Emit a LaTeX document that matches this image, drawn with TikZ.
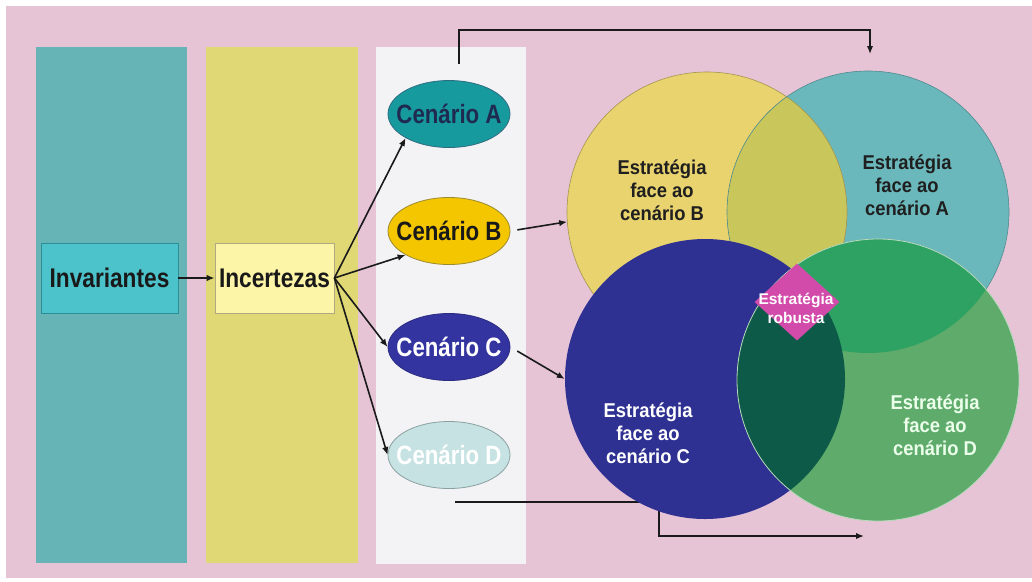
\documentclass[tikz,border=0pt]{standalone}
\usepackage{fontspec}
\setmainfont{Liberation Sans}
\newfontfamily\narrowsans[FakeStretch=0.84]{Liberation Sans}
\newfontfamily\circsans[FakeStretch=0.92]{Liberation Sans}
\usepackage{tikz}
\usetikzlibrary{%
  shapes.geometric,%
  arrows.meta,%
  calc%
}
\definecolor{bgpink}{HTML}{E6C4D6}
\definecolor{colteal}{HTML}{67B4B6}
\definecolor{colyellow}{HTML}{DFD874}
\definecolor{colwhite}{HTML}{F3F2F5}
\definecolor{invfill}{HTML}{4CC3CB}
\definecolor{invline}{HTML}{2E8E98}
\definecolor{incfill}{HTML}{FCF4A6}
\definecolor{incline}{HTML}{B0A880}
\definecolor{scAfill}{HTML}{179A9E}
\definecolor{scAline}{HTML}{2D6D80}
\definecolor{scAtext}{HTML}{1F2A50}
\definecolor{scBfill}{HTML}{F4C600}
\definecolor{scBline}{HTML}{9A8A30}
\definecolor{scCfill}{HTML}{3434A0}
\definecolor{scCline}{HTML}{2A2A80}
\definecolor{scDfill}{HTML}{C7E2E2}
\definecolor{scDline}{HTML}{8AA0A0}
\definecolor{cirBfill}{HTML}{E9D36F}
\definecolor{cirAfill}{HTML}{6BB8BC}
\definecolor{cirABfill}{HTML}{C9C75C}
\definecolor{cirCfill}{HTML}{2E3092}
\definecolor{cirDfill}{HTML}{5EAB6B}
\definecolor{cirADfill}{HTML}{2EA262}
\definecolor{cirCDfill}{HTML}{0E5A48}
\definecolor{robfill}{HTML}{D24BAA}
\definecolor{linkcol}{HTML}{1A1A1A}

\begin{document}
\begin{tikzpicture}[x=1pt,y=-1pt,
  keybox/.style={draw,line width=0.8pt,inner sep=0pt,minimum height=70pt,
    font=\narrowsans\bfseries\fontsize{27}{27}\selectfont,text=black!90},
  scen/.style={ellipse,draw,line width=0.8pt,inner xsep=-16pt,inner ysep=0pt,minimum width=122pt,
    minimum height=67pt,font=\narrowsans\bfseries\fontsize{26.5}{26.5}\selectfont},
  circtext/.style={align=center,font=\circsans\bfseries\fontsize{20}{23}\selectfont},
  link/.style={draw=linkcol,line width=1.6pt,-{Latex[length=8pt,width=6.5pt]}}]
\useasboundingbox (0,0) rectangle (1032,581);
\fill[white] (0,0) rectangle (1032,581);
\fill[bgpink] (6,6) rectangle (1032,578);

% columns
\fill[colteal] (36,47) rectangle (187,563);
\fill[colyellow] (206,47) rectangle (358,563);
\fill[colwhite] (376,47) rectangle (526,564);

\node[keybox,fill=invfill,draw=invline,minimum width=137pt] (inv) at (109.5,278) {Invariantes};
\node[keybox,fill=incfill,draw=incline,minimum width=119pt] (inc) at (274.5,278) {Incertezas};

\node[scen,fill=scAfill,draw=scAline,text=scAtext] (scA) at (449,114) {Cenário A};
\node[scen,fill=scBfill,draw=scBline,text=black!90] (scB) at (449,231) {Cenário B};
\node[scen,fill=scCfill,draw=scCline,text=white] (scC) at (449,347) {Cenário C};
\node[scen,fill=scDfill,draw=scDline,text=white] (scD) at (449,455) {Cenário D};

\draw[link] (inv.east) -- (inc.west);
\draw[link] (inc.east) -- (scA.south west);
\draw[link] (inc.east) -- (scB.south west);
\draw[link] (inc.east) -- (scC.west);
\draw[link] (inc.east) -- (scD.west);

% connectors round the circles
\coordinate (topA) at (459,64);
\coordinate (topK) at (459,30);
\coordinate (topE) at (870,54);
\draw[link] (topA) -- (topK) -| (topE);
\coordinate (botA) at (455,502);
\coordinate (botK) at (659,502);
\coordinate (botE) at (864,536);
\draw[link] (botA) -- (botK) |- (botE);

% circles
\coordinate (cB) at (707,212);
\coordinate (cA) at (868,212);
\coordinate (cC) at (705,379);
\coordinate (cD) at (878,380);
\fill[cirBfill] (cB) circle (140);
\fill[cirAfill] (cA) circle (141);
\begin{scope}
\clip (cA) circle (141);
\fill[cirABfill] (cB) circle (140);
\end{scope}
\draw[cirBfill!70!black,line width=0.6pt] (cB) circle (140);
\draw[cirAfill!75!black,line width=0.6pt] (cA) circle (141);
\fill[cirCfill] (cC) circle (140);
\fill[cirDfill] (cD) circle (141);
\begin{scope}
\clip (cD) circle (141);
\fill[cirADfill] (cA) circle (141);
\fill[cirCDfill] (cC) circle (140);
\end{scope}
\draw[cirDfill!45!white,line width=0.8pt] (cD) circle (141);
\node[circle,minimum size=280pt,inner sep=0pt] (cirB) at (cB) {};
\node[circle,minimum size=280pt,inner sep=0pt] (cirC) at (cC) {};

\draw[link,shorten <=7pt] (scB.east) -- (cirB.184);
\draw[link,shorten <=8pt] (scC.east) -- (cirC.west);

\node[circtext,text=black!88] (txB) at (662,190) {Estratégia\\face ao\\cenário B};
\node[circtext,text=black!88] (txA) at (907,185) {Estratégia\\face ao\\cenário A};
\node[circtext,text=white] (txC) at (648,433) {Estratégia\\face ao\\cenário C};
\node[circtext,text=green!8!white] (txD) at (935,425) {Estratégia\\face ao\\cenário D};

\node[diamond,fill=robfill,minimum width=85pt,minimum height=77pt,inner sep=0pt] (rob) at (797,302) {};
\node[align=center,text=white,font=\bfseries\fontsize{15.5}{19}\selectfont] (robtxt) at (796,308) {Estratégia\\robusta};
\end{tikzpicture}
\end{document}
